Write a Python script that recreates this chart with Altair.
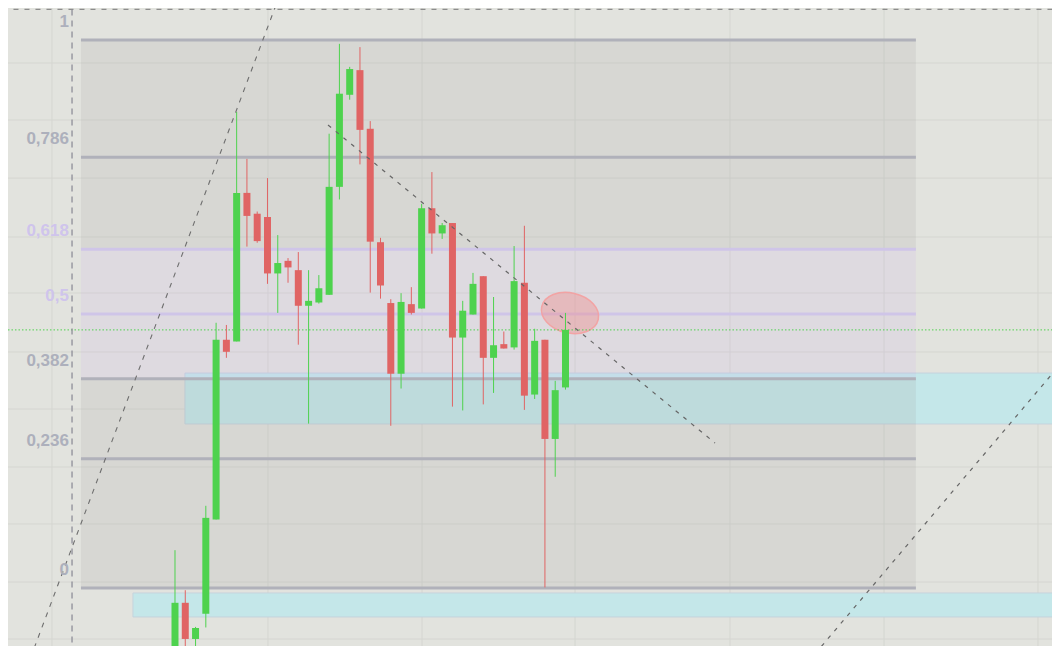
import altair as alt
import pandas as pd

# ---------------- data (price in Fibonacci-retracement units, x = bar index) -------------
bar_open = [-0.204, -0.027, -0.093, -0.047, 0.125, 0.453, 0.450, 0.721, 0.683, 0.677,
            0.574, 0.597, 0.580, 0.515, 0.521, 0.535, 0.732, 0.900, 0.945, 0.838,
            0.631, 0.520, 0.391, 0.518, 0.510, 0.693, 0.647, 0.666, 0.457, 0.499,
            0.569, 0.420, 0.445, 0.439, 0.557, 0.353, 0.453, 0.272, 0.366]
bar_high = [0.069, -0.004, -0.071, 0.150, 0.484, 0.480, 0.869, 0.783, 0.687, 0.748,
            0.644, 0.602, 0.613, 0.580, 0.571, 0.829, 0.993, 0.951, 0.987, 0.852,
            0.639, 0.527, 0.538, 0.549, 0.701, 0.759, 0.666, 0.666, 0.524, 0.575,
            0.569, 0.531, 0.468, 0.624, 0.661, 0.473, 0.453, 0.378, 0.502]
bar_low = [-0.232, -0.150, -0.146, -0.072, 0.125, 0.420, 0.450, 0.623, 0.630, 0.555,
           0.502, 0.557, 0.444, 0.300, 0.519, 0.535, 0.709, 0.891, 0.773, 0.539,
           0.528, 0.296, 0.364, 0.499, 0.510, 0.610, 0.637, 0.331, 0.324, 0.499,
           0.335, 0.356, 0.437, 0.435, 0.325, 0.345, 0.001, 0.203, 0.362]
bar_close = [-0.027, -0.093, -0.073, 0.128, 0.453, 0.431, 0.721, 0.679, 0.633, 0.574,
             0.593, 0.585, 0.515, 0.524, 0.547, 0.732, 0.902, 0.947, 0.836, 0.632,
             0.552, 0.391, 0.522, 0.502, 0.693, 0.647, 0.662, 0.457, 0.506, 0.555,
             0.420, 0.443, 0.437, 0.560, 0.351, 0.451, 0.272, 0.361, 0.471]

fib_levels = [1, 0.786, 0.618, 0.5, 0.382, 0.236, 0]
fib_labels = ["1", "0,786", "0,618", "0,5", "0,382", "0,236", "0"]
fib_line_colors = ["#b0b1ba", "#b0b1ba", "#cfc5e8", "#cfc5e8", "#b0b1ba", "#b0b1ba", "#b0b1ba"]
fib_text_colors = ["#adb0bc", "#adb0bc", "#cfc4ec", "#cfc4ec", "#adb0bc", "#adb0bc", "#adb0bc"]
fib_start, fib_end = -9.15, 72.1

zone_top = [1, 0.618, 0.382]
zone_bottom = [0.618, 0.382, 0]
zone_fill = ["#a0a0a0", "#c8a0f0", "#a0a0a0"]
zone_opacity = [0.167, 0.12, 0.167]

grid_x = [-11.97, 9.05, 24.04, 38.93, 54.01, 69.0, 83.98]
grid_y = [0.958, 0.854, 0.748, 0.6405, 0.5383, 0.4307, 0.3266, 0.2208, 0.1168, 0.0109, -0.0931]

# cyan zones (bar index / price)
zone2_x0 = [0.97, -4.09]
zone2_x1 = [95, 95]
zone2_top = [0.3923, -0.0091]
zone2_bottom = [0.2993, -0.0529]

# drawn trend lines: start/end (bar index, price)
seg_x0 = [9.83, 14.89, 62.28]
seg_y0 = [1.0639, 0.8449, -0.1204]
seg_x1 = [-13.92, 52.55, 85.93]
seg_y1 = [-0.1204, 0.2646, 0.4033]

top_dash_y = 1.0557
vert_dash_x = -10.02
ellipse_x, ellipse_y = 38.44, 0.5018

# ---------------- scales ----------------
xsc = alt.Scale(domain=[-16.251, 85.345], nice=False, zero=False, padding=0)
ysc = alt.Scale(domain=[-0.10584, 1.05839], nice=False, zero=False, padding=0)


def X(f):
    return alt.X(f, type="quantitative", scale=xsc, axis=None)


def Y(f):
    return alt.Y(f, type="quantitative", scale=ysc, axis=None)


n = len(bar_open)
candles = pd.DataFrame({
    "i": list(range(n)), "open": bar_open, "high": bar_high,
    "low": bar_low, "close": bar_close,
})
candles["c"] = ["#4ed24e" if c >= o else "#e06464" for o, c in zip(bar_open, bar_close)]

fib = pd.DataFrame({"v": fib_levels, "t": fib_labels, "lc": fib_line_colors,
                    "tc": fib_text_colors, "x0": fib_start, "x1": fib_end,
                    "xt": vert_dash_x - 0.3})
zones = pd.DataFrame({"top": zone_top, "bot": zone_bottom, "f": zone_fill,
                      "o": zone_opacity, "x0": fib_start, "x1": fib_end})
gx = pd.DataFrame({"x": grid_x})
gy = pd.DataFrame({"y": grid_y, "x0": -20, "x1": 95})
cyan = pd.DataFrame({"x0": zone2_x0, "x1": zone2_x1, "top": zone2_top, "bot": zone2_bottom})
segs = pd.DataFrame({"x0": seg_x0, "y0": seg_y0, "x1": seg_x1, "y1": seg_y1})
topline = pd.DataFrame({"x0": [-20], "x1": [95], "y": [top_dash_y]})
vline = pd.DataFrame({"x": [vert_dash_x], "y0": [top_dash_y], "y1": [-0.11]})
price = pd.DataFrame({"x0": [-20], "x1": [95], "y": [bar_close[-1]]})
ell = pd.DataFrame({"x": [ellipse_x], "y": [ellipse_y]})

# ---------------- layers ----------------
grid_v = alt.Chart(gx).mark_rule(color="#d5d6d1", strokeWidth=1, clip=True).encode(x=X("x"))
grid_h = alt.Chart(gy).mark_rule(color="#d5d6d1", strokeWidth=1, clip=True).encode(
    x=X("x0"), x2="x1", y=Y("y"))

cyan_rects = alt.Chart(cyan).mark_rect(fill="#c4e7e9", stroke="#c5d3dd", strokeWidth=1,
                                       clip=True).encode(
    x=X("x0"), x2="x1", y=Y("top"), y2="bot")

fib_zones = alt.Chart(zones).mark_rect(clip=True).encode(
    x=X("x0"), x2="x1", y=Y("top"), y2="bot",
    fill=alt.Fill("f:N", scale=None),
    fillOpacity=alt.FillOpacity("o:Q", scale=None))

fib_lines = alt.Chart(fib).mark_rule(strokeWidth=3, clip=True).encode(
    x=X("x0"), x2="x1", y=Y("v"), color=alt.Color("lc:N", scale=None))

ellipse_path = ("M 1 0 C 1 0.3827 0.5523 0.693 0 0.693 C -0.5523 0.693 -1 0.3827 -1 0 "
                "C -1 -0.3827 -0.5523 -0.693 0 -0.693 C 0.5523 -0.693 1 -0.3827 1 0 Z")
ellipse = alt.Chart(ell).mark_point(shape=ellipse_path, size=3364, angle=13, filled=True,
                                    fill="#f08a8a", fillOpacity=0.4, stroke="#f4a0a0",
                                    strokeWidth=1.5, strokeOpacity=0.9, opacity=1,
                                    clip=True).encode(x=X("x"), y=Y("y"))

price_line = alt.Chart(price).mark_rule(color="#4ed24e", strokeWidth=1, strokeDash=[1.5, 2],
                                        clip=True).encode(x=X("x0"), x2="x1", y=Y("y"))

wicks = alt.Chart(candles).mark_rule(strokeWidth=1, clip=True).encode(
    x=X("i"), y=Y("low"), y2="high", color=alt.Color("c:N", scale=None))
bodies = alt.Chart(candles).mark_bar(size=7, clip=True).encode(
    x=X("i"), y=Y("open"), y2="close", color=alt.Color("c:N", scale=None))

top_dash = alt.Chart(topline).mark_rule(color="#8c8c8c", strokeWidth=1.3, strokeDash=[5, 6],
                                        clip=True).encode(x=X("x0"), x2="x1", y=Y("y"))
vert_dash = alt.Chart(vline).mark_rule(color="#8e8e98", strokeWidth=1.3, strokeDash=[6, 5],
                                       clip=True).encode(x=X("x"), y=Y("y0"), y2="y1")
seg_left = alt.Chart(segs.iloc[[0]]).mark_rule(color="#6e6e6e", strokeWidth=1.1,
                                               strokeDash=[5, 6], clip=True).encode(
    x=X("x0"), x2="x1", y=Y("y0"), y2="y1")
seg_rest = alt.Chart(segs.iloc[[1, 2]]).mark_rule(color="#666666", strokeWidth=1.2,
                                                  strokeDash=[4, 6], clip=True).encode(
    x=X("x0"), x2="x1", y=Y("y0"), y2="y1")

labels = alt.Chart(fib).mark_text(align="right", baseline="middle", dy=-18,
                                  font="Liberation Sans", fontSize=17,
                                  fontWeight="bold").encode(
    x=X("xt"), y=Y("v"), text="t:N", color=alt.Color("tc:N", scale=None))

chart = alt.layer(
    grid_v, grid_h, cyan_rects, fib_zones, fib_lines, ellipse, price_line,
    wicks, bodies, top_dash, vert_dash, seg_left, seg_rest, labels,
).properties(
    width=1044, height=638, padding=0,
    autosize=alt.AutoSizeParams(type="none"),
).configure(background="#e2e3de").configure_view(stroke=None)

chart.save("out.html", embed_options={"renderer": "svg", "actions": False})
